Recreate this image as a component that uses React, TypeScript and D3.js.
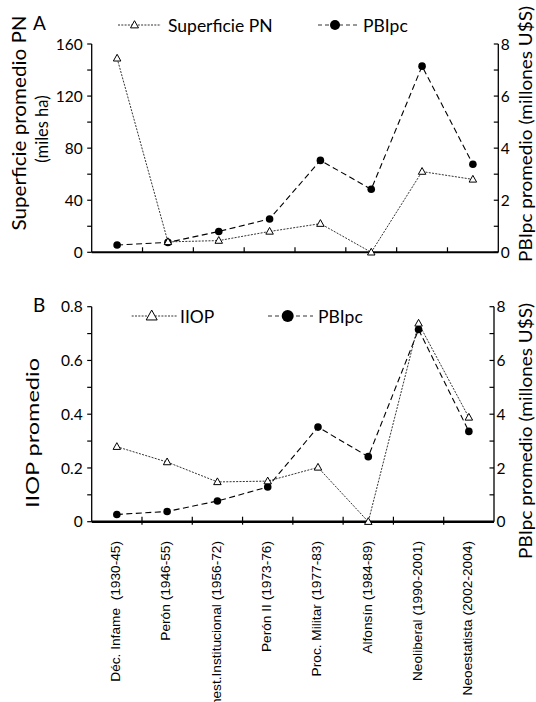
import React from "react";
import * as d3 from "d3";

const categories = [
  "Déc. Infame  (1930-45)",
  "Perón (1946-55)",
  "Inest.Institucional (1956-72)",
  "Perón II (1973-76)",
  "Proc. Militar (1977-83)",
  "Alfonsín (1984-89)",
  "Neoliberal (1990-2001)",
  "Neoestatista (2002-2004)",
];
const superficiePN = [149, 8, 9, 16, 22, 0, 62, 56];
const pbipcA = [0.28, 0.38, 0.8, 1.28, 3.53, 2.42, 7.15, 3.38];
const iiop = [0.279, 0.222, 0.148, 0.151, 0.202, 0, 0.738, 0.388];
const pbipcB = [0.27, 0.38, 0.77, 1.29, 3.52, 2.42, 7.15, 3.36];

const leftTicksA = [0, 20, 40, 60, 80, 100, 120, 140, 160];
const leftTicksB = [0, 0.1, 0.2, 0.3, 0.4, 0.5, 0.6, 0.7, 0.8];
const rightTicks = [0, 1, 2, 3, 4, 5, 6, 7, 8];

const CAL = "Lato, 'Open Sans', sans-serif";
const ARIAL = "'Liberation Sans', Arial, sans-serif";

function tri(x: number, y: number, w: number) {
  const h = w * 0.9;
  return `M${x},${y - h * 0.6}L${x + w / 2},${y + h * 0.4}L${x - w / 2},${y + h * 0.4}Z`;
}

type PanelProps = {
  letter: string;
  letterY: number;
  x0: number;
  x1: number;
  yTop: number;
  yBot: number;
  leftMax: number;
  leftTicks: number[];
  leftLabelEvery: number;
  leftFmt: (v: number) => string;
  left: number[];
  right: number[];
  xAxisWidth: number;
  xTickDown: number;
  legend: { name: string; lineX0: number; lineX1: number; markX: number; textX: number; triW: number; circR: number }[];
  legendY: number;
  leftTitle: React.ReactNode;
  rightTitleY: number;
};

function Panel(p: PanelProps) {
  const x = d3.scaleBand<string>().domain(categories).range([p.x0, p.x1]);
  const yL = d3.scaleLinear().domain([0, p.leftMax]).range([p.yBot, p.yTop]);
  const yR = d3.scaleLinear().domain([0, 8]).range([p.yBot, p.yTop]);
  const cx = (c: string) => (x(c) as number) + x.bandwidth() / 2;
  const lineL = d3
    .line<number>()
    .x((_, i) => cx(categories[i]))
    .y((d) => yL(d));
  const lineR = d3
    .line<number>()
    .x((_, i) => cx(categories[i]))
    .y((d) => yR(d));
  const step = x.step();
  return (
    <g>
      <text x={33} y={p.letterY} fontFamily={CAL} fontSize={19}>
        {p.letter}
      </text>
      {/* left axis */}
      <line x1={p.x0} x2={p.x0} y1={p.yTop} y2={p.yBot} stroke="#000" strokeWidth={1.3} />
      {p.leftTicks.map((t, i) => (
        <g key={"l" + i}>
          <line x1={p.x0 - 4.5} x2={p.x0} y1={yL(t)} y2={yL(t)} stroke="#000" strokeWidth={1.2} />
          {i % p.leftLabelEvery === 0 && (
            <text x={p.x0 - 9} y={yL(t)} dy="0.36em" textAnchor="end" fontFamily={CAL} fontSize={15.5}>
              {p.leftFmt(t)}
            </text>
          )}
        </g>
      ))}
      {/* right axis */}
      <line x1={p.x1} x2={p.x1} y1={p.yTop} y2={p.yBot} stroke="#000" strokeWidth={1.3} />
      {rightTicks.map((t, i) => (
        <g key={"r" + i}>
          <line x1={p.x1 - 4.5} x2={p.x1} y1={yR(t)} y2={yR(t)} stroke="#000" strokeWidth={1.2} />
          {i % 2 === 0 && (
            <text x={p.x1 + 2.5} y={yR(t)} dy="0.36em" textAnchor="start" fontFamily={CAL} fontSize={15.5}>
              {t}
            </text>
          )}
        </g>
      ))}
      {/* x axis */}
      <line x1={p.x0} x2={p.x1} y1={p.yBot} y2={p.yBot} stroke="#000" strokeWidth={p.xAxisWidth} />
      {categories.slice(1).map((c, i) => (
        <line
          key={"x" + i}
          x1={p.x0 + step * (i + 1)}
          x2={p.x0 + step * (i + 1)}
          y1={p.yBot - 5}
          y2={p.yBot + p.xTickDown}
          stroke="#000"
          strokeWidth={1.2}
        />
      ))}
      {/* series */}
      <path d={lineR(p.right) || ""} fill="none" stroke="#000" strokeWidth={1.1} strokeDasharray="6,3.5" />
      <path d={lineL(p.left) || ""} fill="none" stroke="#333" strokeWidth={1} strokeDasharray="2,1.3" />
      {p.right.map((v, i) => (
        <circle key={"c" + i} cx={cx(categories[i])} cy={yR(v)} r={3.8} fill="#000" />
      ))}
      {p.left.map((v, i) => (
        <path key={"t" + i} d={tri(cx(categories[i]), yL(v), 7.5)} fill="#fff" stroke="#000" strokeWidth={1} />
      ))}
      {/* legend */}
      {p.legend.map((l, i) => (
        <g key={"lg" + i}>
          <line
            x1={l.lineX0}
            x2={l.lineX1}
            y1={p.legendY}
            y2={p.legendY}
            stroke="#333"
            strokeWidth={1}
            strokeDasharray={l.triW > 0 ? "2,1.3" : "4,3"}
          />
          {l.triW > 0 ? (
            <path d={tri(l.markX, p.legendY, l.triW)} fill="#fff" stroke="#000" strokeWidth={1} />
          ) : (
            <circle cx={l.markX} cy={p.legendY} r={l.circR} fill="#000" />
          )}
          <text x={l.textX} y={p.legendY + 6.5} fontFamily={CAL} fontSize={17.5}>
            {l.name}
          </text>
        </g>
      ))}
      {p.leftTitle}
      <text
        transform={`translate(532,${p.rightTitleY}) rotate(-90)`}
        textAnchor="middle"
        fontFamily={CAL}
        fontSize={16.5}
        textLength={256}
        lengthAdjust="spacingAndGlyphs"
      >
        PBIpc promedio (millones U$S)
      </text>
    </g>
  );
}

export default function App() {
  const bandB = d3.scaleBand<string>().domain(categories).range([91.7, 494]);
  return (
    <svg
      width={536}
      height={702}
      style={{ position: "absolute", left: 0, top: 0, background: "#fff" }}
      xmlns="http://www.w3.org/2000/svg"
    >
      <rect width={536} height={702} fill="#fff" />
      <Panel
        letter="A"
        letterY={30}
        x0={91.7}
        x1={498.3}
        yTop={44}
        yBot={252.3}
        leftMax={160}
        leftTicks={leftTicksA}
        leftLabelEvery={2}
        leftFmt={(v) => String(v)}
        left={superficiePN}
        right={pbipcA}
        xAxisWidth={2}
        xTickDown={0}
        legendY={25}
        legend={[
          { name: "Superficie PN", lineX0: 118, lineX1: 161, markX: 134.5, textX: 168, triW: 8, circR: 0 },
          { name: "PBIpc", lineX0: 318, lineX1: 357, markX: 335, textX: 363, triW: 0, circR: 5 },
        ]}
        leftTitle={
          <g>
            <text
              transform="translate(26,123) rotate(-90)"
              textAnchor="middle"
              fontFamily={CAL}
              fontSize={19}
              textLength={215}
              lengthAdjust="spacingAndGlyphs"
            >
              Superficie promedio PN
            </text>
            <text transform="translate(48,129) rotate(-90)" textAnchor="middle" fontFamily={CAL} fontSize={16.5}>
              (miles ha)
            </text>
          </g>
        }
        rightTitleY={134}
      />
      <Panel
        letter="B"
        letterY={312}
        x0={91.7}
        x1={494}
        yTop={306.7}
        yBot={521.7}
        leftMax={0.8}
        leftTicks={leftTicksB}
        leftLabelEvery={2}
        leftFmt={(v) => (v === 0 ? "0" : d3.format(".1f")(v))}
        left={iiop}
        right={pbipcB}
        xAxisWidth={2.6}
        xTickDown={3}
        legendY={316}
        legend={[
          { name: "IIOP", lineX0: 131.7, lineX1: 176.7, markX: 151.7, textX: 180, triW: 11, circR: 0 },
          { name: "PBIpc", lineX0: 268, lineX1: 313, markX: 287.7, textX: 318, triW: 0, circR: 6 },
        ]}
        leftTitle={
          <text
            transform="translate(39,433) rotate(-90)"
            textAnchor="middle"
            fontFamily={CAL}
            fontSize={17}
            textLength={150}
            lengthAdjust="spacingAndGlyphs"
          >
            IIOP promedio
          </text>
        }
        rightTitleY={431}
      />
      {categories.map((c, i) => {
        const cx = (bandB(c) as number) + bandB.bandwidth() / 2;
        return (
          <text
            key={c}
            transform={`translate(${cx - 1.5},541) rotate(-90)`}
            dy="0.35em"
            textAnchor="end"
            fontFamily={ARIAL}
            fontSize={13.7}
            style={{ whiteSpace: "pre" }}
          >
            {c}
          </text>
        );
      })}
    </svg>
  );
}
